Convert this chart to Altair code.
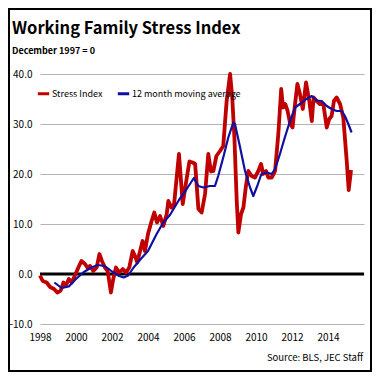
import altair as alt
import pandas as pd

TITLE = "Working Family Stress Index"
SUBTITLE = "December 1997 = 0"
SOURCE = "Source:  BLS, JEC Staff"
SERIES = ["Stress Index", "12 month moving average"]
COLORS = ["#C00000", "#1010A0"]

x_ticks = [1998, 2000, 2002, 2004, 2006, 2008, 2010, 2012, 2014]
y_ticks = [-10, 0, 10, 20, 30, 40]

red_years = [1998.00, 1998.15, 1998.37, 1998.56, 1998.78, 1998.96, 1999.15, 1999.30, 1999.44, 1999.60,
             1999.76, 1999.94, 2000.13, 2000.30, 2000.50, 2000.63, 2000.78, 2000.96, 2001.15, 2001.30,
             2001.44, 2001.61, 2001.76, 2001.94, 2002.07, 2002.22, 2002.40, 2002.60, 2002.78, 2002.96,
             2003.15, 2003.28, 2003.40, 2003.56, 2003.70, 2003.83, 2004.00, 2004.20, 2004.35, 2004.50,
             2004.67, 2004.85, 2005.04, 2005.13, 2005.30, 2005.45, 2005.72, 2005.93, 2006.10, 2006.30,
             2006.48, 2006.62, 2006.80, 2006.98, 2007.17, 2007.35, 2007.50, 2007.63, 2007.80, 2008.00,
             2008.18, 2008.37, 2008.56, 2008.68, 2008.80, 2008.93, 2009.02, 2009.17, 2009.30, 2009.43,
             2009.57, 2009.76, 2009.94, 2010.13, 2010.28, 2010.40, 2010.56, 2010.68, 2010.87, 2011.06,
             2011.24, 2011.40, 2011.50, 2011.62, 2011.75, 2011.90, 2012.03, 2012.17, 2012.30, 2012.44,
             2012.60, 2012.78, 2012.96, 2013.10, 2013.20, 2013.37, 2013.55, 2013.74, 2013.93, 2014.07,
             2014.20, 2014.33, 2014.48, 2014.67, 2014.85, 2015.04, 2015.15, 2015.28]
red_values = [-0.3, -1.4, -1.7, -2.6, -3.0, -3.7, -3.3, -1.7, -2.3, -1.0,
              -1.7, -0.3, 1.3, 2.6, 2.0, 1.3, 1.6, 0.6, 1.3, 4.0,
              2.6, 1.3, 0.6, -3.7, -1.0, 1.3, 0.3, 1.0, 0.3, 1.3,
              4.6, 3.6, 2.3, 4.6, 6.6, 4.6, 8.0, 10.6, 12.3, 10.3,
              11.6, 9.6, 12.0, 14.6, 13.3, 14.0, 24.0, 14.0, 18.0, 22.5,
              22.3, 22.0, 13.0, 12.3, 16.0, 24.0, 20.5, 20.6, 23.6, 24.6,
              25.6, 34.6, 40.0, 35.3, 27.3, 14.6, 8.3, 12.0, 13.3, 17.3,
              20.6, 19.6, 19.3, 20.6, 22.0, 20.0, 20.6, 19.3, 19.3, 20.6,
              28.0, 37.0, 33.3, 34.0, 32.7, 30.0, 29.3, 34.0, 38.0, 36.0,
              33.0, 38.3, 34.6, 30.6, 35.3, 34.6, 34.0, 34.0, 29.3, 31.0,
              31.6, 34.6, 35.3, 34.0, 31.3, 22.6, 16.8, 20.8]

avg_years = [1998.80, 1999.20, 1999.60, 2000.00, 2000.40, 2000.80, 2001.20, 2001.60, 2002.00, 2002.40,
             2002.65, 2002.90, 2003.20, 2003.60, 2004.00, 2004.48, 2004.85, 2005.22, 2005.72, 2006.15,
             2006.55, 2006.80, 2007.07, 2007.44, 2007.72, 2007.90, 2008.18, 2008.46, 2008.74, 2008.83,
             2009.10, 2009.39, 2009.67, 2009.85, 2010.07, 2010.30, 2010.60, 2010.87, 2011.06, 2011.33,
             2011.60, 2011.89, 2012.17, 2012.44, 2012.80, 2013.10, 2013.37, 2013.65, 2013.93, 2014.20,
             2014.48, 2014.76, 2014.94, 2015.13, 2015.31]
avg_values = [-1.7, -2.8, -2.5, -1.0, 0.3, 1.2, 1.8, 1.6, 0.5, -0.4,
              -0.7, -0.3, 1.3, 3.0, 4.6, 8.0, 10.3, 11.8, 14.8, 17.0,
              19.2, 17.6, 17.3, 17.6, 17.6, 19.6, 23.3, 27.3, 30.3, 30.0,
              25.6, 20.6, 17.3, 15.6, 17.6, 20.0, 20.3, 20.0, 21.0, 24.0,
              27.3, 30.6, 33.3, 34.0, 35.0, 35.6, 34.7, 34.6, 33.6, 33.0,
              32.6, 32.6, 31.6, 30.0, 28.3]

FONT = "Noto Sans CJK SC"

red_df = pd.DataFrame({"year": red_years, "value": red_values, "series": SERIES[0]})
avg_df = pd.DataFrame({"year": avg_years, "value": avg_values, "series": SERIES[1]})

x_enc = alt.X("year:Q", scale=alt.Scale(domain=[1998, 2016], nice=False, zero=False),
              axis=alt.Axis(values=x_ticks, format="d", grid=False, domain=False, ticks=False,
                            labelPadding=8, title=None, labelFont=FONT, labelFontSize=10,
                            labelColor="black", labelOverlap=False, labelFlush=False))
y_enc = alt.Y("value:Q", scale=alt.Scale(domain=[-10, 40], nice=False, zero=False),
              axis=alt.Axis(values=y_ticks, format=".1f", grid=True, gridColor="#b4b4b4",
                            domain=False, ticks=False, labelPadding=8, title=None, labelFont=FONT,
                            labelFontSize=10, labelColor="black"))
color_enc = alt.Color("series:N", scale=alt.Scale(domain=SERIES, range=COLORS),
                      legend=alt.Legend(title=None, orient="none", legendX=-4, legendY=12,
                                        direction="horizontal", symbolType="stroke",
                                        symbolStrokeWidth=3, symbolSize=130, labelFont=FONT,
                                        labelFontSize=9, labelColor="black", labelOffset=1,
                                        columnPadding=8))

red_line = alt.Chart(red_df).mark_line(strokeWidth=3.8, strokeJoin="round").encode(
    x=x_enc, y=y_enc, color=color_enc)
avg_line = alt.Chart(avg_df).mark_line(strokeWidth=2.2, strokeJoin="round").encode(
    x="year:Q", y="value:Q", color=color_enc)

zero = alt.Chart(pd.DataFrame({"y": [0]})).mark_rule(color="black", strokeWidth=3).encode(y="y:Q")

title = alt.Chart(pd.DataFrame({"t": [TITLE]})).mark_text(
    font=FONT, fontSize=16.5, fontWeight="bold", align="left", baseline="alphabetic", color="black"
).encode(text="t:N", x=alt.value(-28), y=alt.value(-40))
subtitle = alt.Chart(pd.DataFrame({"t": [SUBTITLE]})).mark_text(
    font=FONT, fontSize=9, fontWeight="bold", align="left", baseline="alphabetic", color="black"
).encode(text="t:N", x=alt.value(-28), y=alt.value(-20))
source = alt.Chart(pd.DataFrame({"t": [SOURCE]})).mark_text(
    font=FONT, fontSize=9.5, align="right", baseline="alphabetic", color="black"
).encode(text="t:N", x=alt.value(323), y=alt.value(287))

border = alt.Chart(pd.DataFrame({"a": [0]})).mark_rect(
    filled=False, stroke="black", strokeWidth=2
).encode(x=alt.value(-31), x2=alt.value(331), y=alt.value(-65), y2=alt.value(297))

chart = alt.layer(zero, red_line, avg_line, title, subtitle, source, border).properties(
    width=324, height=250,
    padding={"left": 32, "top": 66, "right": 8, "bottom": 48},
    autosize=alt.AutoSizeParams(type="none"),
    background="white",
).configure_view(stroke=None)

chart.save("out.html", embed_options={"renderer": "svg", "actions": False})
